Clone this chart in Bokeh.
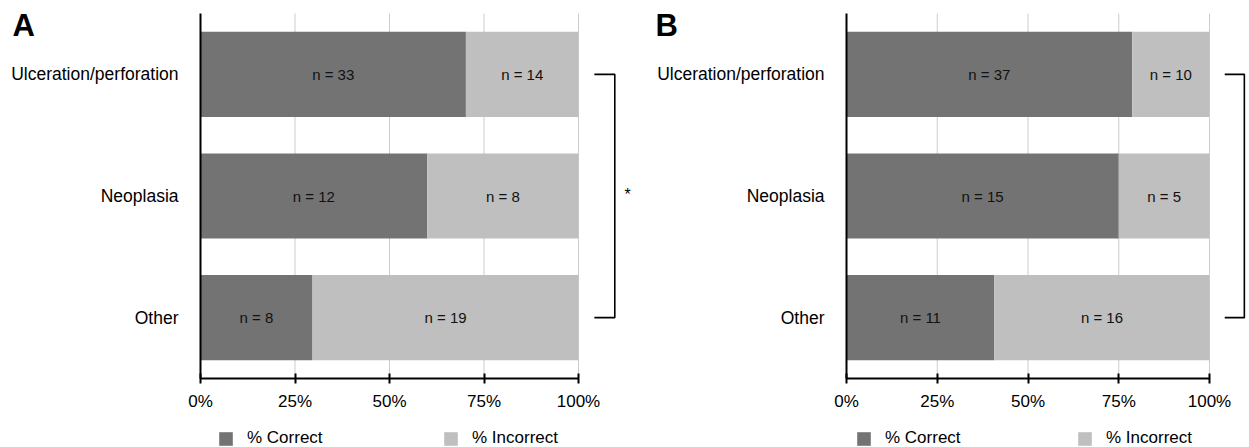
from bokeh.plotting import figure
from bokeh.layouts import row
from bokeh.models import (ColumnDataSource, Range1d, FixedTicker,
                          Legend, LegendItem, Label)
from bokeh.core.properties import value
from bokeh.embed import file_html
from bokeh.resources import INLINE

categories = ["Ulceration/perforation", "Neoplasia", "Other"]
correct_a = [33, 12, 8]
incorrect_a = [14, 8, 19]
correct_b = [37, 15, 11]
incorrect_b = [10, 5, 16]
tick_values = [0, 25, 50, 75, 100]
tick_labels = ["0%", "25%", "50%", "75%", "100%"]
series_labels = ["% Correct", "% Incorrect"]
panel_labels = ["A", "B"]

DARK = "#737373"
LIGHT = "#bfbfbf"
FONT = "Liberation Sans"
H = 447
TOP, BOTTOM = 13, 378          # pixel extent of the category band
NCAT = len(categories)
PX_CAT = (BOTTOM - TOP) / NCAT


def make_panel(letter, correct, incorrect, width, x0px, px100, star, letter_x, leg_x):
    total = [c + i for c, i in zip(correct, incorrect)]
    pc = [100.0 * c / t for c, t in zip(correct, total)]
    pi = [100.0 * i / t for i, t in zip(incorrect, total)]
    ypos = [NCAT - k - 0.5 for k in range(NCAT)]
    src = ColumnDataSource(dict(
        y=ypos, pc=pc, pi=pi,
        lc=["n = %d" % c for c in correct],
        li=["n = %d" % i for i in incorrect],
        xc=[v / 2 for v in pc],
        xi=[a + b / 2 for a, b in zip(pc, pi)],
    ))
    sc = px100 / 100.0
    p = figure(width=width, height=H, output_backend="svg", toolbar_location=None,
               x_range=Range1d(-x0px / sc, (width - x0px) / sc),
               y_range=Range1d(-(H - BOTTOM) / PX_CAT, NCAT + TOP / PX_CAT),
               min_border=0, min_border_left=0, min_border_right=0,
               min_border_top=0, min_border_bottom=0)
    p.outline_line_color = None
    p.background_fill_color = None
    p.border_fill_color = "white"

    # grid lines (only across the category band)
    p.xgrid.visible = False
    p.ygrid.visible = False
    p.segment(x0=tick_values[1:], x1=tick_values[1:], y0=[0] * 4, y1=[NCAT] * 4,
              line_color="#cccccc", line_width=1)

    rs = p.hbar_stack(["pc", "pi"], y="y", height=0.7, source=src,
                      color=[DARK, LIGHT], line_color=None)
    p.text(x="xc", y="y", text="lc", source=src, text_align="center",
           text_baseline="middle", text_font=value(FONT), text_font_size="15px",
           text_color="#111111")
    p.text(x="xi", y="y", text="li", source=src, text_align="center",
           text_baseline="middle", text_font=value(FONT), text_font_size="15px",
           text_color="#111111")

    # significance bracket between first and last category
    p.multi_line(xs=[[104.2, 109.6, 109.6, 104.2]],
                 ys=[[ypos[0], ypos[0], ypos[2], ypos[2]]],
                 line_color="black", line_width=1.6)
    if star:
        p.text(x=[113.0], y=[ypos[1]], text=["*"], text_align="center",
               text_baseline="middle", text_font=value(FONT), text_font_size="16px",
               text_color="black", y_offset=-2)

    # axes
    xa = p.xaxis[0]
    xa.fixed_location = 0
    xa.ticker = FixedTicker(ticks=tick_values)
    xa.major_label_overrides = {v: l for v, l in zip(tick_values, tick_labels)}
    xa.bounds = (0, 100)
    xa.axis_line_width = 2
    xa.axis_line_color = "black"
    xa.major_tick_line_width = 2
    xa.major_tick_in = 5
    xa.major_tick_out = 5
    xa.minor_tick_line_color = None
    xa.major_label_standoff = 8
    xa.major_label_text_font = FONT
    xa.major_label_text_font_size = "17px"
    xa.major_label_text_color = "black"

    ya = p.yaxis[0]
    ya.fixed_location = 0
    ya.ticker = FixedTicker(ticks=ypos)
    ya.major_label_overrides = {y: c for y, c in zip(ypos, categories)}
    ya.bounds = (0, NCAT)
    ya.axis_line_width = 2
    ya.axis_line_color = "black"
    ya.major_tick_line_color = None
    ya.minor_tick_line_color = None
    ya.major_tick_in = 0
    ya.major_tick_out = 0
    ya.major_label_standoff = 22
    ya.major_label_text_font = FONT
    ya.major_label_text_font_size = "17.5px"
    ya.major_label_text_color = "black"

    for r, lab, lx in zip(rs, series_labels, leg_x):
        lg = Legend(items=[LegendItem(label=lab, renderers=[r])],
                    location=(lx, -1), orientation="horizontal",
                    padding=0, margin=0, border_line_color=None,
                    background_fill_color=None, glyph_width=17, glyph_height=17,
                    label_height=17, label_standoff=13,
                    label_text_font=FONT, label_text_font_size="17px",
                    label_text_color="black", label_text_baseline="middle")
        p.add_layout(lg, "center")

    p.add_layout(Label(x=letter_x, y=H - 25, x_units="screen",
                       y_units="screen", text=letter, text_font=FONT,
                       text_font_size="31px", text_font_style="bold",
                       text_color="black", text_baseline="alphabetic"))
    return p


pa = make_panel(panel_labels[0], correct_a, incorrect_a, 648, 200, 378, True, 12, [17 + 200, 242 + 200])
pb = make_panel(panel_labels[1], correct_b, incorrect_b, 601, 198, 363, False, 7, [9 + 198, 230 + 198])

layout = row(pa, pb)
open("out.html", "w").write(file_html(layout, INLINE))
